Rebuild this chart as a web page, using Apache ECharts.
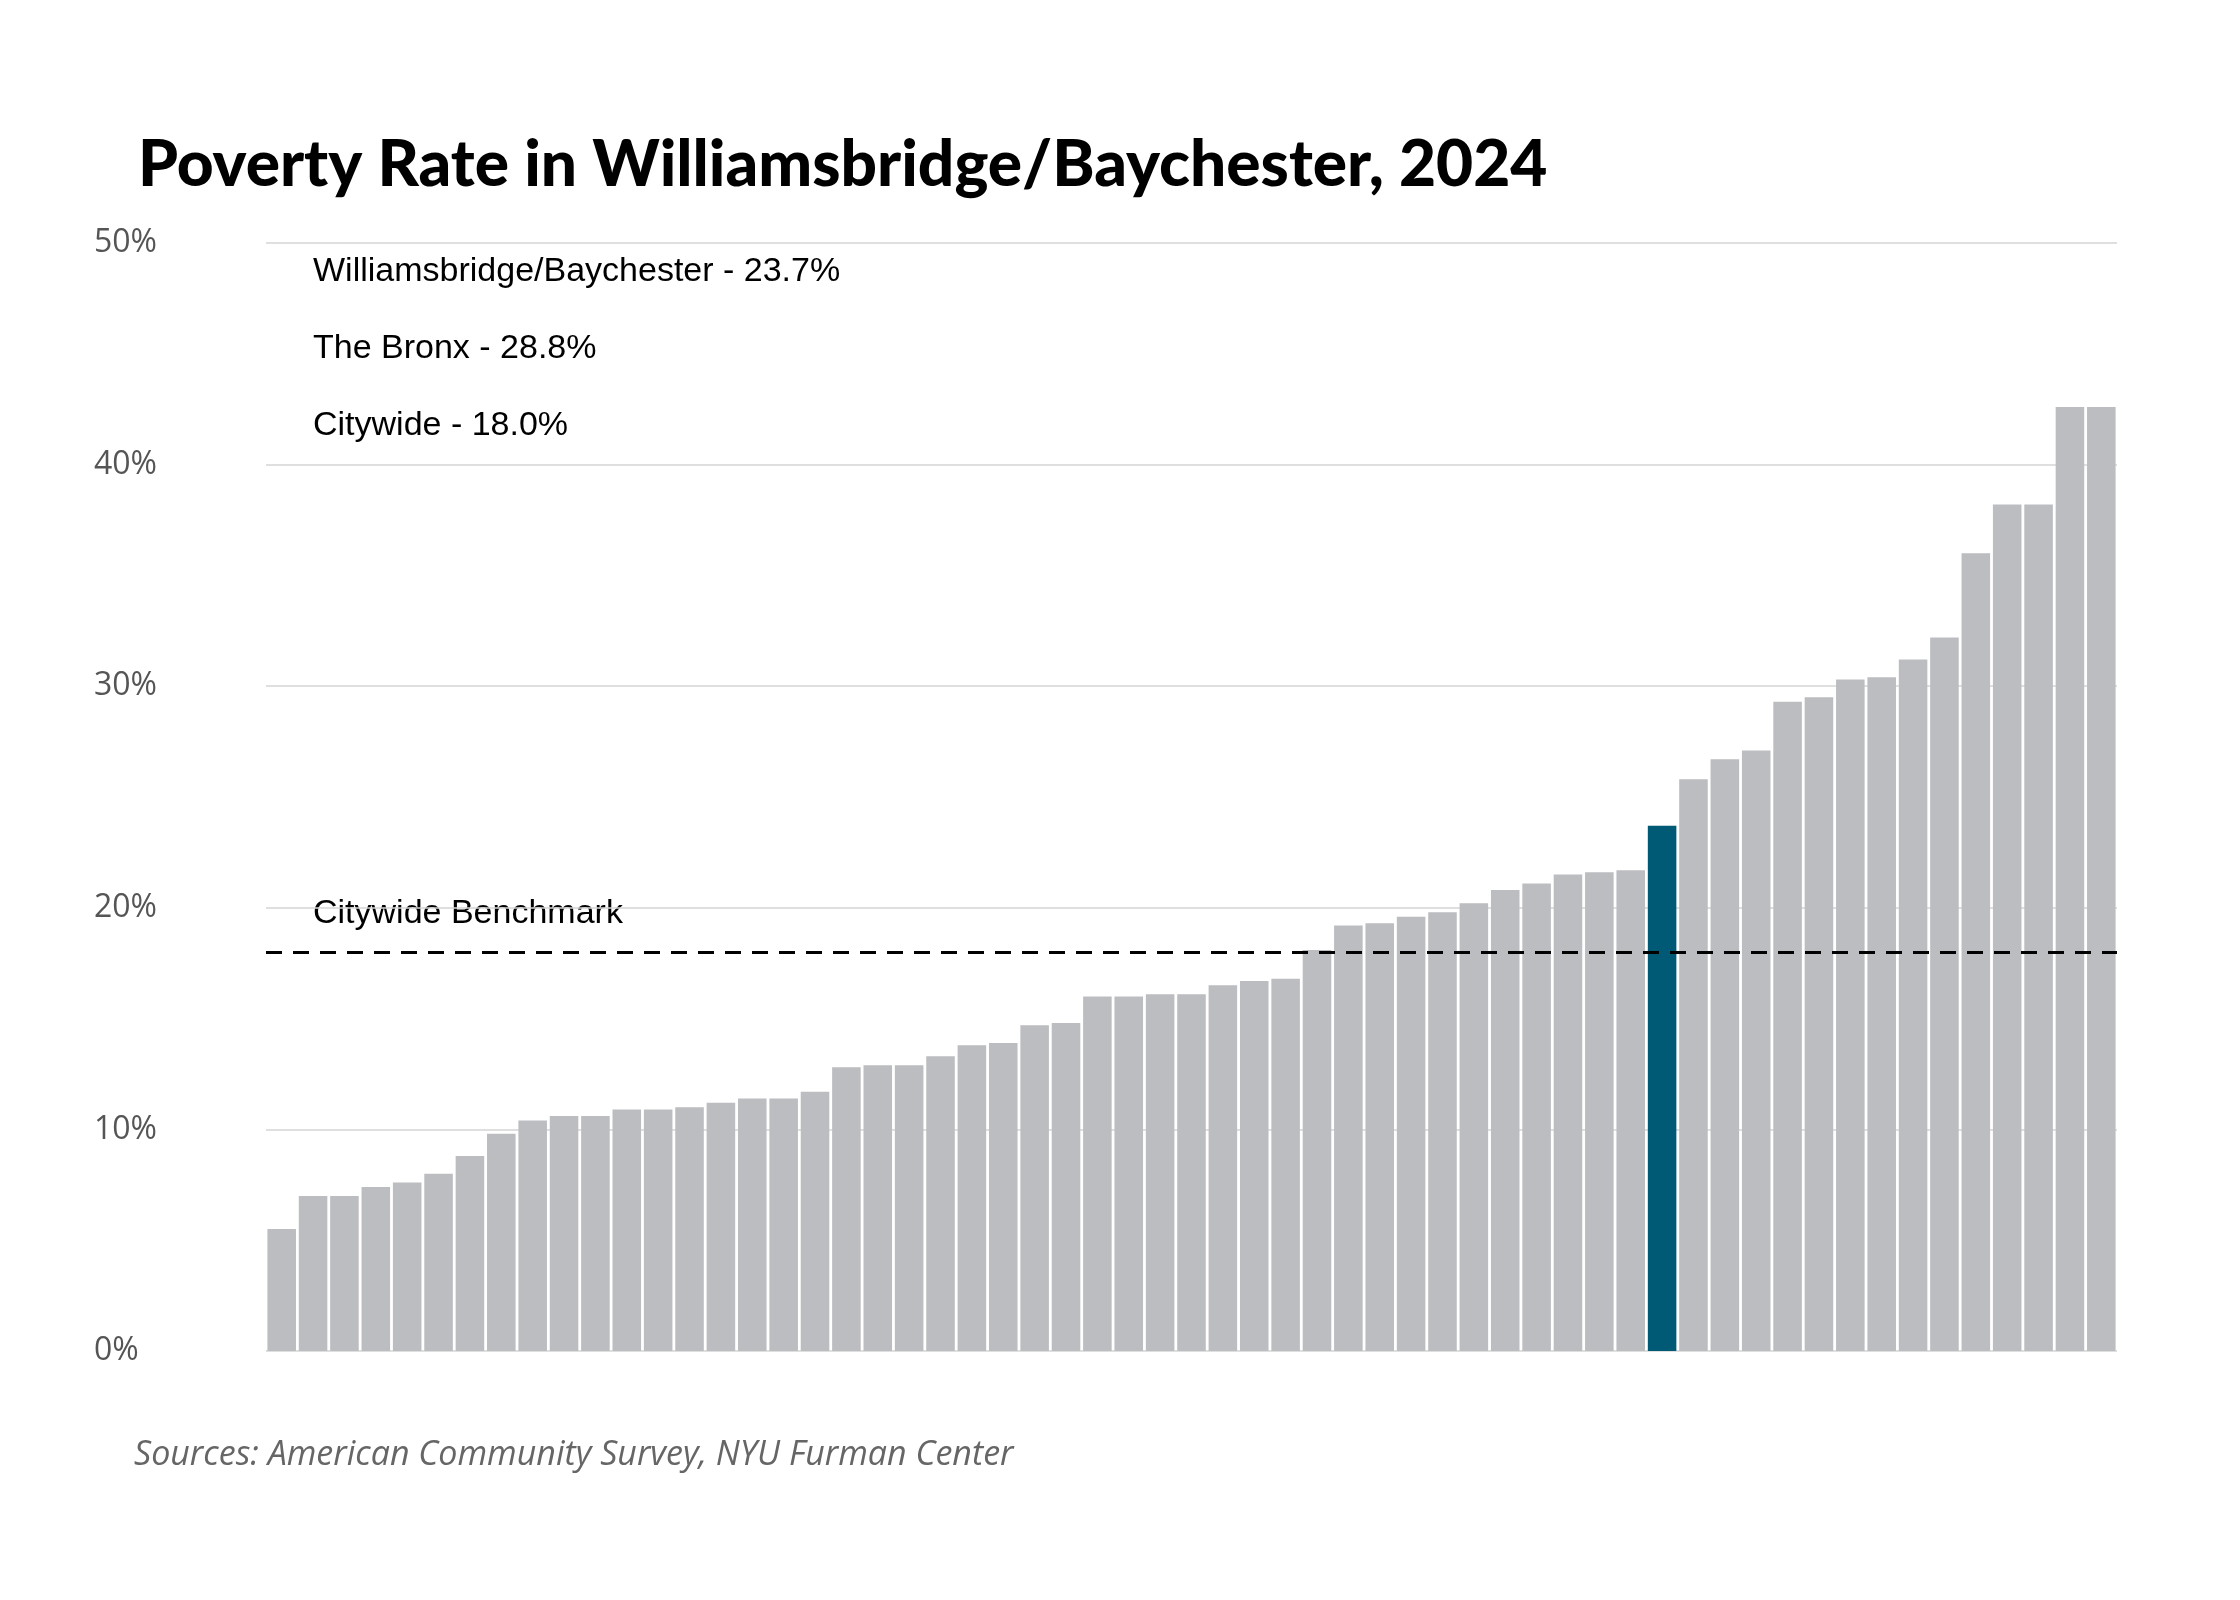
<!DOCTYPE html>
<html><head><meta charset="utf-8">
<script src="https://cdn.jsdelivr.net/npm/echarts@6/dist/echarts.min.js"></script>
<style>html,body{margin:0;background:#fff}#c{width:2240px;height:1600px}</style>
</head><body><div id="c"></div>
<script>
// neighborhood poverty rates, sorted ascending
const rates = [5.5,7.0,7.0,7.4,7.6,8.0,8.8,9.8,10.4,10.6,10.6,10.9,10.9,11.0,11.2,11.4,11.4,11.7,12.8,12.9,12.9,13.3,13.8,13.9,14.7,14.8,16.0,16.0,16.1,16.1,16.5,16.7,16.8,18.1,19.2,19.3,19.6,19.8,20.2,20.8,21.1,21.5,21.6,21.7,23.7,25.8,26.7,27.1,29.3,29.5,30.3,30.4,31.2,32.2,36.0,38.2,38.2,42.6,42.6];
const highlightIndex = 44;
const citywide = 18.0;
const notes = ['Williamsbridge/Baychester - 23.7%', 'The Bronx - 28.8%', 'Citywide - 18.0%'];
const yTicks = [0, 10, 20, 30, 40, 50];

const chart = echarts.init(document.getElementById('c'));
const cats = rates.map((v, i) => 'n' + i);

chart.setOption({
  animation: false,
  title: {
    text: 'Poverty Rate in Williamsbridge/Baychester, 2024',
    left: 133, top: 128,
    textStyle: {fontFamily: 'Lato', fontWeight: 900, fontSize: 64, color: '#000'}
  },
  grid: {left: 266, right: 123, top: 243, bottom: 249},
  xAxis: {
    type: 'category', data: cats,
    axisLine: {show: false}, axisTick: {show: false}, axisLabel: {show: false}
  },
  yAxis: {
    type: 'value', min: yTicks[0], max: yTicks[yTicks.length - 1], interval: 10,
    axisLabel: {formatter: '{value}%', fontSize: 32, color: '#555', fontFamily: 'Open Sans', margin: 44, align: 'left', padding: [0, 0, 0, -128]},
    splitLine: {lineStyle: {color: '#d4d4d4', width: 1.5}}
  },
  series: [{
    type: 'bar',
    data: rates.map((v, i) => ({value: v, itemStyle: {color: i === highlightIndex ? '#005a76' : '#bcbdc0'}})),
    barCategoryGap: '9%',
    markLine: {
      symbol: 'none', silent: true,
      label: {show: false},
      lineStyle: {color: '#000', type: [16, 11], width: 3},
      data: [{yAxis: citywide}]
    }
  }],
  graphic: notes.map((t, i) => ({
    type: 'text', left: 313, top: 255 + i * 77,
    style: {text: t, fontSize: 34, fontFamily: 'Liberation Sans', fill: '#000'}
  })).concat([
    {type: 'text', left: 313, top: 897, style: {text: 'Citywide Benchmark', fontSize: 34, fontFamily: 'Liberation Sans', fill: '#000'}},
    {type: 'text', left: 134, top: 1438, style: {text: 'Sources: American Community Survey, NYU Furman Center', fontSize: 34, fontStyle: 'italic', fontFamily: 'Open Sans', fill: '#666'}}
  ])
});
</script></body></html>
